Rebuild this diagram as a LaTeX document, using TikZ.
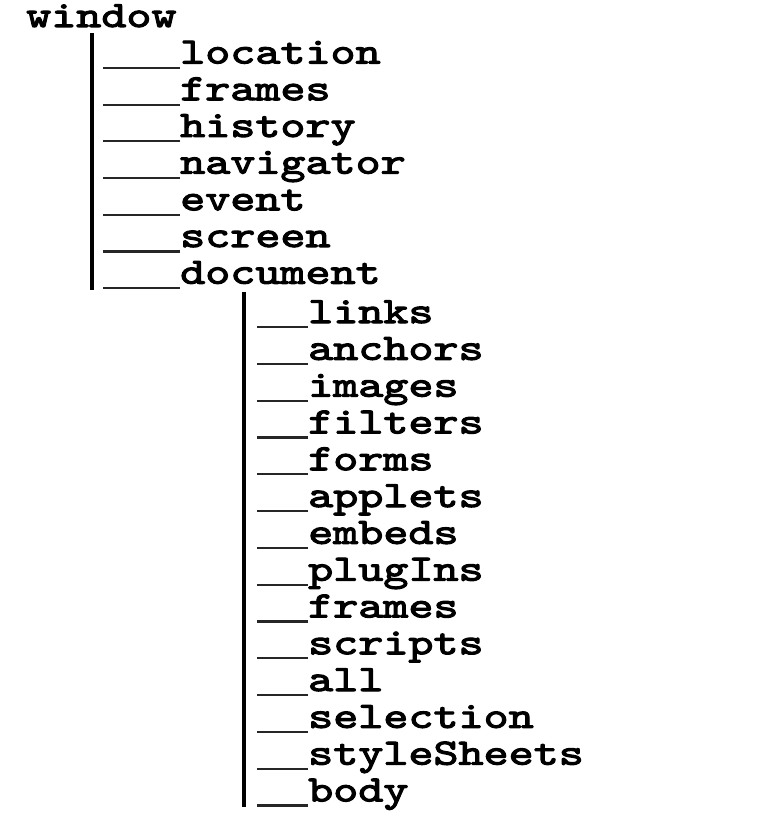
\documentclass[tikz,border=0pt]{standalone}
\usepackage{fontspec}
\newfontfamily\treefont[Extension=.otf,FakeStretch=1.29,FakeBold=3]{lmmono10-regular}
\begin{document}
\begin{tikzpicture}[x=1pt,y=-1pt,
  lbl/.style={anchor=base west,inner sep=0pt,font=\treefont\fontsize{37}{37}\selectfont},
  bar/.style={line width=4pt,black},
  ul/.style={line width=2.2pt,black!85}]
\useasboundingbox[fill=white] (0,0) rectangle (760,818);
% root
\node[lbl] (win) at (26,27) {window};
% level 1
\node[lbl] (l1) at (180,63.5) {location};
\node[lbl] (l2) at (180,100.2) {frames};
\node[lbl] (l3) at (180,136.9) {history};
\node[lbl] (l4) at (180,173.6) {navigator};
\node[lbl] (l5) at (180,210.3) {event};
\node[lbl] (l6) at (180,247.0) {screen};
\node[lbl] (doc) at (180,283.7) {document};
% level 2
\node[lbl] (d1) at (308,323.0) {links};
\node[lbl] (d2) at (308,359.8) {anchors};
\node[lbl] (d3) at (308,396.6) {images};
\node[lbl] (d4) at (308,433.4) {filters};
\node[lbl] (d5) at (308,470.2) {forms};
\node[lbl] (d6) at (308,507.0) {applets};
\node[lbl] (d7) at (308,543.8) {embeds};
\node[lbl] (d8) at (308,580.6) {plugIns};
\node[lbl] (d9) at (308,617.4) {frames};
\node[lbl] (d10) at (308,654.2) {scripts};
\node[lbl] (d11) at (308,691.0) {all};
\node[lbl] (d12) at (308,727.8) {selection};
\node[lbl] (d13) at (308,764.6) {styleSheets};
\node[lbl] (d14) at (308,801.4) {body};
% vertical bars
\coordinate (t1) at (92,33);
\coordinate (b1) at (92,290);
\draw[bar] (t1) -- (b1);
\coordinate (t2) at (244,292);
\coordinate (b2) at (244,807);
\draw[bar] (t2) -- (b2);
% underscores level 1
\foreach \n in {l1,l2,l3,l4,l5,l6,doc}
  \draw[ul] ([yshift=-4.5pt]\n.base west) -- +(-77,0);
% underscores level 2
\foreach \n in {d1,d2,d3,d4,d5,d6,d7,d8,d9,d10,d11,d12,d13,d14}
  \draw[ul] ([yshift=-4pt]\n.base west) -- +(-51,0);
\end{tikzpicture}
\end{document}
